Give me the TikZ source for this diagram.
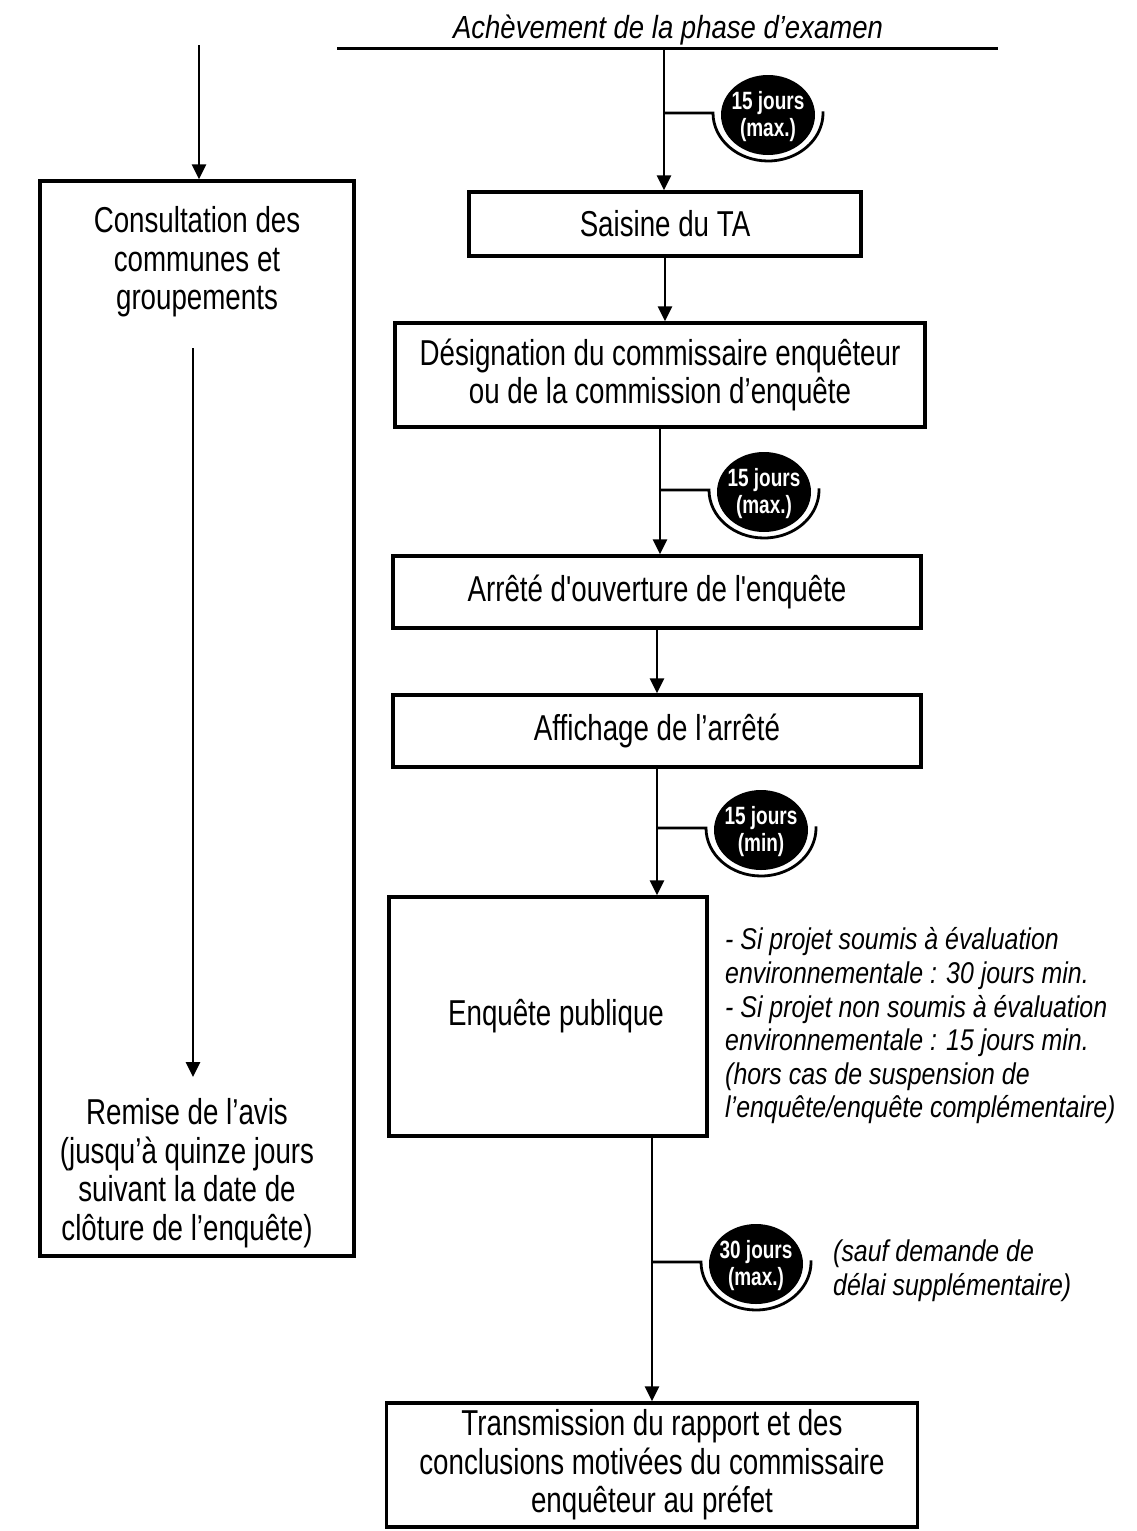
\documentclass[tikz,border=0pt]{standalone}
\usepackage{fontspec}
\setmainfont{Liberation Sans}
\newfontfamily\mainf{Liberation Sans}[FakeStretch=0.77]
\newfontfamily\slf{Liberation Sans}[FakeStretch=0.83]
\newfontfamily\titf{Liberation Sans}[FakeStretch=0.86]
\newfontfamily\badgef{Liberation Sans}[FakeStretch=0.76]
\usetikzlibrary{arrows.meta,calc}

\tikzset{
  box/.style={draw,line width=3.3pt,align=center,inner sep=0pt,
    font=\mainf\fontsize{36}{38.5}\selectfont},
  plain/.style={align=center,inner sep=0pt,font=\mainf\fontsize{36}{38.5}\selectfont},
  arr/.style={line width=2.8pt,-{Triangle[width=14pt,length=15pt]}},
  conn/.style={line width=2.8pt},
  note/.style={align=left,inner sep=0pt,font=\slf\itshape\fontsize{30}{33.6}\selectfont},
  btxt/.style={align=center,text=white,inner sep=0pt,
    font=\badgef\bfseries\fontsize{25}{27}\selectfont},
}

\newcommand\jbadge[5]{%
  \coordinate (#1-o) at (#2,#3);
  \draw[conn] (#1-o) -- ++(49,0)
     arc[start angle=180,end angle=362,x radius=55pt,y radius=48pt];
  \fill[black] ($(#1-o)+(104,2)$) ellipse[x radius=47pt,y radius=40pt];
  \node[btxt] (#1) at ($(#1-o)+(104,4)$) {#4\\#5};
}

\begin{document}
\begin{tikzpicture}[x=1pt,y=-1pt]
\useasboundingbox (0,0) rectangle (1137,1531);
\fill[white] (0,0) rectangle (1137,1531);

% top line and title
\coordinate (tl) at (337,48);
\coordinate (tr) at (998,48);
\draw[line width=3pt] (tl) -- (tr);
\node[inner sep=0pt,anchor=base,font=\titf\itshape\fontsize{32}{34}\selectfont]
  (title) at (668,38) {Achèvement de la phase d’examen};

% left column
\node[box,minimum width=314pt,minimum height=1075pt] (lbox) at (197,718.5) {};
\node[plain] (consult) at (197,262) {Consultation des\\communes et\\groupements};
\node[plain] (remise) at (187,1173) {Remise de l’avis\\(jusqu’à quinze jours\\suivant la date de\\clôture de l’enquête)};
\coordinate (ltop) at (199,45);
\draw[arr] (ltop) -- (ltop |- lbox.north);
\coordinate (ia) at (193,348);
\coordinate (ib) at (193,1077);
\draw[arr] (ia) -- (ib);

% main column boxes
\node[box,minimum width=392pt,minimum height=64pt] (saisine) at (665,224) {Saisine du TA};
\node[box,minimum width=530pt,minimum height=104pt] (design) at (660,375)
  {Désignation du commissaire enquêteur\\ou de la commission d’enquête};
\node[box,minimum width=528pt,minimum height=72pt] (arrete) at (657,592)
  {Arrêté d'ouverture de l'enquête};
\node[box,minimum width=528pt,minimum height=72pt] (affich) at (657,731)
  {Affichage de l’arrêté};
\node[box,minimum width=318pt,minimum height=239pt] (enquete) at (548,1016.5)
  {\hspace*{16pt}Enquête publique};
\node[box,minimum width=531pt,minimum height=124pt] (trans) at (652,1465)
  {Transmission du rapport et des\\conclusions motivées du commissaire\\enquêteur au préfet};

% connectors
\coordinate (topc) at (664,48);
\draw[arr] (topc) -- (topc |- saisine.north);
\draw[arr] (saisine.south) -- (saisine.south |- design.north);
\draw[arr] (design.south) -- (design.south |- arrete.north);
\draw[arr] (arrete.south) -- (arrete.south |- affich.north);
\draw[arr] (affich.south) -- (affich.south |- enquete.north);
\draw[arr] (enquete.south -| trans.north) -- (trans.north);

% badges
\jbadge{b1}{664}{113}{15 jours}{(max.)}
\jbadge{b2}{660}{490}{15 jours}{(max.)}
\jbadge{b3}{657}{828}{15 jours}{(min)}
\jbadge{b4}{652}{1262}{30 jours}{(max.)}

% notes
\node[note,anchor=west] (enote) at (725,1026)
  {- Si projet soumis à évaluation\\environnementale : 30 jours min.\\- Si projet non soumis à évaluation\\environnementale : 15 jours min.\\(hors cas de suspension de\\l’enquête/enquête complémentaire)};
\node[note,anchor=west] (snote) at (833,1271)
  {(sauf demande de\\délai supplémentaire)};
\end{tikzpicture}
\end{document}
